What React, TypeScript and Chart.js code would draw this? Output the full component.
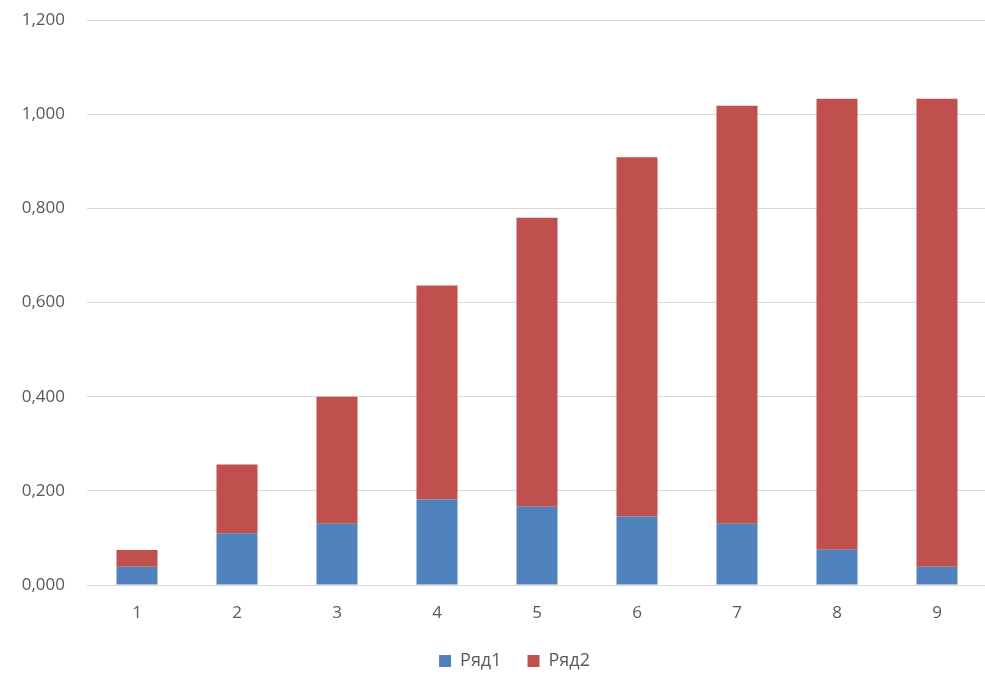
import React, { useEffect, useRef } from "react";
import { Chart, registerables } from "chart.js";

Chart.register(...registerables);

const categories = ["1", "2", "3", "4", "5", "6", "7", "8", "9"];
const series1Name = "Ряд1";
const series2Name = "Ряд2";
const series1 = [0.0386, 0.110, 0.130, 0.1815, 0.166, 0.1454, 0.130, 0.0747, 0.0386];
const series2 = [0.036, 0.146, 0.270, 0.4545, 0.614, 0.763, 0.888, 0.958, 0.994];
const yMin = 0;
const yMax = 1.2;
const yStep = 0.2;

const FONT = "'Open Sans', 'Liberation Sans', sans-serif";
const CANVAS_W = 987;
const CANVAS_H = 680;
const LEGEND_SHIFT = 21;

const legendShift = {
  id: "legendShift",
  afterLayout(chart: any) {
    const lg = chart.legend;
    if (lg) {
      lg.left += LEGEND_SHIFT;
      lg.right += LEGEND_SHIFT;
    }
  },
};

export default function App() {
  const ref = useRef<HTMLCanvasElement | null>(null);

  useEffect(() => {
    if (!ref.current) return;
    const chart = new Chart(ref.current, {
      type: "bar",
      data: {
        labels: categories,
        datasets: [
          {
            label: series1Name,
            data: series1,
            backgroundColor: "#4F81BD",
            barPercentage: 0.41,
            categoryPercentage: 1,
          },
          {
            label: series2Name,
            data: series2,
            backgroundColor: "#C0504D",
            barPercentage: 0.41,
            categoryPercentage: 1,
          },
        ],
      },
      plugins: [legendShift],
      options: {
        animation: false,
        responsive: false,
        maintainAspectRatio: false,
        layout: { padding: { top: 20, right: 0, bottom: 0, left: 0 } },
        plugins: {
          legend: {
            position: "bottom",
            labels: {
              boxWidth: 12,
              boxHeight: 12,
              padding: 26,
              color: "#595959",
              font: { family: FONT, size: 18 },
            },
          },
          tooltip: { enabled: false },
        },
        scales: {
          x: {
            stacked: true,
            grid: { display: false, drawTicks: false },
            border: { display: true, color: "#D9D9D9", width: 1 },
            ticks: {
              color: "#595959",
              font: { family: FONT, size: 17 },
              padding: 18,
            },
            afterFit: (scale: any) => {
              scale.height = 41;
              scale.paddingLeft = 0;
              scale.paddingRight = 0;
            },
          },
          y: {
            stacked: true,
            min: yMin,
            max: yMax,
            grid: { color: "#D9D9D9", lineWidth: 1, drawTicks: false },
            border: { display: false },
            ticks: {
              stepSize: yStep,
              color: "#595959",
              font: { family: FONT, size: 17 },
              padding: 22,
              callback: (v: any) => Number(v).toFixed(3).replace(".", ","),
            },
            afterFit: (scale: any) => {
              scale.width = 87;
              scale.paddingTop = 0;
              scale.paddingBottom = 0;
            },
          },
        },
      },
    });
    return () => chart.destroy();
  }, []);

  return (
    <div style={{ position: "fixed", left: 0, top: 0, width: 985, height: 677, overflow: "hidden", background: "#fff" }}>
      <canvas
        ref={ref}
        width={CANVAS_W}
        height={CANVAS_H}
        style={{ position: "absolute", left: 0, top: 0, width: CANVAS_W, height: CANVAS_H }}
      />
    </div>
  );
}
